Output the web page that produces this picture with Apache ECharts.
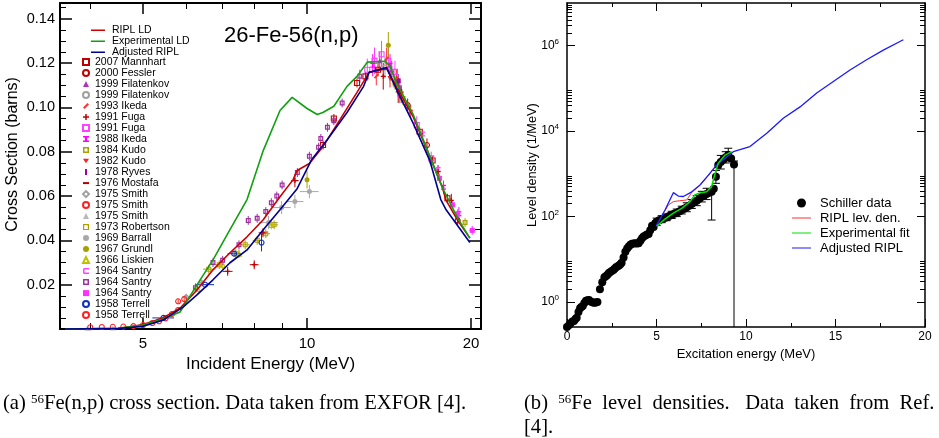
<!DOCTYPE html>
<html><head><meta charset="utf-8">
<script src="https://cdn.jsdelivr.net/npm/echarts@6/dist/echarts.min.js"></script>
<style>html,body{margin:0;padding:0;background:#fff}#c{width:939px;height:438px}</style>
</head><body><div id="c"></div>
<script>
// ================= Panel (a): 26-Fe-56(n,p) =================
// curves: [E (MeV), sigma (barns)]
const riplLD = [[3.6,0],[4.5,0.0003],[4.73,0.001],[5.0,0.002],[5.44,0.005],[5.85,0.0095],[6.28,0.0176],[6.72,0.0267],[7.22,0.0344],[7.76,0.0416],[8.31,0.0493],[8.92,0.0597],[9.43,0.0674],[9.59,0.0715],[10.1,0.0747],[10.7,0.0824],[11.5,0.0946],[12.35,0.1068],[13.0,0.1158],[14.0,0.1175],[14.6,0.109],[15.65,0.0959],[16.8,0.0778],[17.3,0.070],[17.7,0.0643],[18.0,0.058],[18.9,0.049],[19.9,0.041]];
const experimentalLD = [[3.6,0],[4.5,0.0003],[5.0,0.0018],[5.44,0.0045],[5.85,0.0077],[6.28,0.0199],[6.72,0.0312],[7.22,0.0448],[7.76,0.0584],[8.31,0.0805],[8.92,0.0986],[9.39,0.1045],[10.0,0.0995],[10.44,0.0968],[10.69,0.0977],[11.2,0.1005],[11.84,0.1095],[12.35,0.114],[12.9,0.1204],[13.9,0.1208],[14.2,0.1186],[14.6,0.111],[15.65,0.097],[16.8,0.078],[17.7,0.064],[18.9,0.050],[19.9,0.041]];
const adjustedRIPL = [[3.6,0],[4.5,0.0002],[5.0,0.0012],[5.44,0.004],[5.92,0.0099],[6.28,0.0154],[6.72,0.0222],[7.22,0.0299],[7.76,0.0357],[8.31,0.0448],[8.92,0.0538],[9.59,0.0633],[10.2,0.0765],[10.9,0.0855],[11.84,0.0977],[12.7,0.1095],[13.0,0.1158],[14.0,0.118],[14.6,0.108],[15.65,0.093],[16.8,0.076],[17.6,0.0584],[18.0,0.0538],[19.9,0.039]];

// experimental points: [E, sigma, dE, dSigma]
const mannhart2007 = [[10.7,0.083,0,0.002],[11.2,0.095,0,0.002],[12.35,0.111,0,0.002],[12.8,0.114,0,0.002],[13.5,0.117,0,0.003],[16.1,0.089,0,0.002],[17.0,0.076,0,0.002],[18.1,0.059,0,0.002]];
const fessler2000 = [[14.6,0.112,0,0.003],[15.3,0.101,0,0.003],[16.6,0.083,0,0.003],[18.9,0.049,0,0.002]];
const filatenkov1999a = [[13.6,0.121,0,0.004],[14.3,0.117,0,0.004],[14.8,0.109,0,0.003]];
const filatenkov1999b = [[13.9,0.118,0,0.005],[14.4,0.113,0,0.004]];
const ikeda1993 = [[13.4,0.114,0,0.004],[14.0,0.122,0,0.005],[14.6,0.113,0,0.004],[15.5,0.098,0,0.003]];
const fuga1991a = [[7.15,0.026,0.15,0.002],[8.0,0.029,0.15,0.002],[8.3,0.0434,0.15,0.002],[9.5,0.067,0.15,0.003],[13.8,0.114,0.1,0.006],[14.7,0.107,0.1,0.005],[17.4,0.071,0.1,0.003],[18.4,0.058,0.1,0.003]];
const fuga1991b = [[12.9,0.117,0,0.005],[13.3,0.121,0,0.006],[13.7,0.124,0,0.006],[14.1,0.121,0,0.006],[14.5,0.116,0,0.005],[15.9,0.092,0,0.004],[16.9,0.077,0,0.003]];
const ikeda1988 = [[13.2,0.119,0,0.005],[14.2,0.119,0,0.005],[14.8,0.106,0,0.004],[17.8,0.064,0,0.003],[19.0,0.052,0,0.003]];
const kudo1984 = [[14.5,0.111,0,0.003],[15.0,0.104,0,0.003],[19.5,0.048,0,0.002]];
const kudo1982 = [[14.2,0.113,0,0.004],[14.9,0.106,0,0.004]];
const ryves1978 = [[14.7,0.112,0,0.003]];
const mostafa1976 = [[14.8,0.107,0,0.003]];
const smith1975a = [[6.0,0.0145,0.1,0.001],[6.4,0.021,0.1,0.001]];
const smith1975b = [[5.8,0.0125,0,0.001],[5.95,0.0135,0,0.001]];
const smith1975c = [[3.95,0.0003,0,0],[4.4,0.0004,0,0]];
const robertson1973 = [[6.6,0.027,0.15,0.002],[6.9,0.029,0.15,0.002],[7.4,0.034,0.15,0.002],[7.7,0.038,0.15,0.002],[8.1,0.040,0.15,0.002],[8.4,0.043,0.15,0.002],[8.7,0.047,0.15,0.002]];
const barrall1969 = [[8.5,0.048,0.35,0.003],[8.98,0.0548,0.35,0.003],[9.5,0.0575,0.35,0.003],[10.1,0.062,0.4,0.003]];
const grundl1967 = [[10.0,0.0674,0,0.004],[14.1,0.128,0,0.006]];
const liskien1966 = [[6.3,0.018,0,0.001],[7.0,0.029,0,0.002],[7.5,0.034,0,0.002],[8.6,0.047,0,0.002]];
const santry1964a = [[16.3,0.088,0.1,0.002],[17.4,0.072,0.1,0.002]];
const santry1964b = [[6.24,0.0186,0,0.002],[6.72,0.030,0,0.002],[7.0,0.031,0,0.002],[7.5,0.038,0,0.002],[7.8,0.049,0,0.002],[8.1,0.050,0,0.002],[8.4,0.053,0,0.002],[8.6,0.057,0,0.002],[8.8,0.060,0,0.002],[9.0,0.065,0,0.002],[9.6,0.0706,0,0.002],[10.1,0.078,0,0.002],[10.5,0.082,0,0.002],[10.6,0.086,0,0.002],[10.9,0.091,0,0.002],[11.2,0.094,0,0.002],[11.6,0.102,0,0.002],[12.5,0.114,0,0.003]];
const santry1964c = [[17.5,0.068,0.15,0.002],[18.5,0.056,0.2,0.002],[18.9,0.052,0.2,0.002],[20.1,0.0445,0.25,0.002]];
const terrell1958a = [[5.45,0.005,0.25,0],[6.5,0.020,0.25,0],[7.35,0.034,0.2,0.001],[8.25,0.039,0,0.004]];
const terrell1958b = [[4.0,0.0008,0,0],[4.2,0.0009,0,0],[4.4,0.001,0,0],[4.6,0.0011,0,0],[4.8,0.0013,0,0],[5.0,0.0018,0,0],[5.2,0.0027,0,0],[5.35,0.0035,0,0],[5.5,0.0048,0,0],[5.65,0.0068,0,0],[5.8,0.0086,0,0]];

// legend order / dataset names
const aNames = ['2007 Mannhart','2000 Fessler','1999 Filatenkov','1999 Filatenkov ','1993 Ikeda','1991 Fuga','1991 Fuga ','1988 Ikeda','1984 Kudo','1982 Kudo','1978 Ryves','1976 Mostafa','1975 Smith','1975 Smith ','1975 Smith  ','1973 Robertson','1969 Barrall','1967 Grundl','1966 Liskien','1964 Santry','1964 Santry ','1964 Santry  ','1958 Terrell','1958 Terrell '];
const aData = [mannhart2007,fessler2000,filatenkov1999a,filatenkov1999b,ikeda1993,fuga1991a,fuga1991b,ikeda1988,kudo1984,kudo1982,ryves1978,mostafa1976,smith1975a,smith1975b,smith1975c,robertson1973,barrall1969,grundl1967,liskien1966,santry1964a,santry1964b,santry1964c,terrell1958a,terrell1958b];

// axis ticks panel (a)
const aXRange = [3.52, 20.86];
const aXMajorTicks = [5, 10, 20];
const aXMinorTicks = [4, 6, 7, 8, 9];
const aYRange = [0, 0.1471];
const aYMajorTicks = [0.02, 0.04, 0.06, 0.08, 0.10, 0.12, 0.14];
const aYMinorTicks = [0.005,0.01,0.015,0.025,0.03,0.035,0.045,0.05,0.055,0.065,0.07,0.075,0.085,0.09,0.095,0.105,0.11,0.115,0.125,0.13,0.135,0.145];

// ================= Panel (b): 56Fe level densities =================
// [Ex (MeV), rho (1/MeV)]
const schillerData = [[0.00,0.26],[0.12,0.29],[0.20,0.32],[0.30,0.35],[0.39,0.36],[0.47,0.40],[0.54,0.43],[0.64,0.58],[0.73,0.71],[0.80,0.76],[0.88,0.81],[0.97,0.95],[1.06,1.07],[1.15,1.10],[1.23,1.11],[1.35,1.02],[1.45,0.98],[1.53,0.96],[1.62,0.98],[1.70,1.00],[1.84,2.0],[1.97,2.9],[2.09,3.8],[2.17,4.0],[2.25,4.3],[2.33,4.7],[2.40,5.0],[2.50,5.3],[2.59,5.6],[2.66,6.0],[2.74,6.5],[2.83,6.9],[2.91,7.2],[2.98,7.7],[3.05,8.3],[3.16,11],[3.26,15],[3.36,18],[3.45,20],[3.54,22],[3.63,23],[3.73,23.5],[3.82,23.6],[3.91,23.5],[4.00,23.6],[4.10,27],[4.19,31],[4.28,34],[4.38,36],[4.47,38],[4.56,39],[4.65,48],[4.75,61],[4.84,57],[4.93,70],[5.01,76],[5.15,82],[5.29,87],[5.43,92],[5.57,96],[5.71,103],[5.85,110],[5.99,116],[6.13,123],[6.27,132],[6.41,142],[6.55,153],[6.69,165],[6.83,180],[6.97,198],[7.11,216],[7.25,236],[7.39,262],[7.53,293],[7.66,316],[7.80,338],[7.94,360],[8.08,381],[8.20,450],[8.32,858],[8.45,1620],[8.59,1900],[8.73,2130],[8.87,2450],[9.01,2760],[9.17,2300],[9.33,1660]];
// error bars: [Ex, low, high]
const schillerErr = [[5.01,62,92],[5.29,72,105],[5.57,80,115],[5.85,90,133],[6.13,100,150],[6.41,115,175],[6.69,130,210],[6.97,155,250],[7.25,180,310],[7.53,220,390],[7.80,250,460],[8.08,83,430],[8.32,600,1200],[8.59,1300,2700],[8.87,1800,3300],[9.01,2000,3980],[9.33,0.26,2000]];
const riplLevDen = [[5.0,60],[5.3,105],[5.66,186],[5.94,224],[6.3,235],[6.69,245],[6.97,370],[7.43,540],[7.9,920],[8.36,1600],[8.83,2300],[9.29,3250]];
const experimentalFit = [[5.01,59],[5.47,87],[5.94,120],[6.41,155],[6.87,224],[7.15,324],[7.43,355],[7.80,380],[8.08,500],[8.27,1020],[8.45,1780],[8.83,2750],[9.2,3310]];
const adjustedRIPLb = [[5.0,63],[5.47,141],[5.94,363],[6.22,302],[6.5,295],[6.97,380],[7.43,550],[7.9,933],[8.36,1620],[8.83,2340],[9.29,3310],[10.22,4370],[11.16,8900],[12.08,20000],[13.02,37000],[13.95,78000],[14.88,145000],[15.81,270000],[16.74,470000],[17.67,790000],[18.79,1380000]];

const bXRange = [0, 20];
const bYRange = [0.26, 1e7];
const bYLabelExps = [0, 2, 4, 6];
const bYMinorMantissas = [2, 3, 4, 5, 6, 7, 8, 9];

// ================= styles =================
const FONT = '"Liberation Sans", Arial, Helvetica, sans-serif';
const SERIF = '"Liberation Serif", "Times New Roman", serif';
const aStyles = [
  {c:'#c00000', s:'rect', h:true, z:5},
  {c:'#c00000', s:'circle', h:true, z:5},
  {c:'#b030c0', s:'triangle', z:6},
  {c:'#a0a0a0', s:'circle', h:true, z:5},
  {c:'#ff3030', s:'path://M0,7 L6,1 L8,3 L2,9 Z', z:7},
  {c:'#c00000', s:'path://M3,0h2v3h3v2h-3v3h-2v-3h-3v-2h3z', z:8},
  {c:'#ff40ff', s:'rect', h:true, z:6},
  {c:'#ff00ff', s:'path://M0,0h8v2h-2.5v4h2.5v2h-8v-2h2.5v-4h-2.5z', z:6},
  {c:'#a8a000', s:'path://M0,0h8v8h-8z M2,2v4h4v-4z', z:6},
  {c:'#ff2020', s:'path://M0,0 L8,0 L4,6 Z', z:6},
  {c:'#a000a0', s:'path://M0,0h3v9h-3z', z:6},
  {c:'#b00000', s:'path://M0,0h9v3h-9z', z:6},
  {c:'#a0a0a0', s:'diamond', h:true, z:5},
  {c:'#ff2020', s:'circle', h:true, z:5},
  {c:'#b8b8b8', s:'triangle', z:5},
  {c:'#b0a000', s:'path://M0,0h8v8h-8z M1.6,1.6v4.8h4.8v-4.8z', z:5},
  {c:'#a8a8a8', s:'circle', z:5},
  {c:'#a8a000', s:'circle', z:6},
  {c:'#c0c000', s:'triangle', h:true, z:5},
  {c:'#ff40ff', s:'path://M8,0h-6a2,2 0 0 0 -2,2v4a2,2 0 0 0 2,2h6v-2h-6v-4h6z', z:5},
  {c:'#a030a0', s:'path://M0,0h8v8h-8z M2,2v4h4v-4z', z:5},
  {c:'#ff30ff', s:'rect', z:6},
  {c:'#1030c0', s:'circle', h:true, z:6},
  {c:'#ff2020', s:'circle', h:true, z:5}
];
const LINE_ICON_A = 'path://M0,0h14v0.02h-14z M0,3.3h14v1.6h-14z M0,8h14v0.02h-14z';
const LINE_ICON_B = 'path://M0,0h19v0.02h-19z M0,3.9h19v1.2h-19z M0,9h19v0.02h-19z';

const lg = Math.log10;

function tickAxis(o) {
  const ax = {
    type: 'value', gridIndex: o.grid, position: o.pos, min: o.min, max: o.max,
    axisLine: {show: !!o.line, onZero: false, lineStyle: {color: '#000', width: o.lw || 1.5}},
    axisTick: {show: true, inside: true, length: o.len, customValues: o.ticks, lineStyle: {color: '#000', width: o.tw || 1}},
    axisLabel: {show: false},
    splitLine: {show: false}
  };
  if (o.labels) {
    ax.axisLabel = Object.assign({show: true, customValues: o.labels, color: '#000', fontFamily: FONT}, o.labelStyle);
  }
  if (o.name) { Object.assign(ax, o.name); }
  return ax;
}

const aXmin = lg(aXRange[0]), aXmax = lg(aXRange[1]);
const bYmin = lg(bYRange[0]), bYmax = lg(bYRange[1]);
const bYMinorTicks = [];
bYLabelExps.forEach(e => bYMinorMantissas.forEach(m => bYMinorTicks.push(lg(m) + e)));

const xAxes = [
  {type: 'log', gridIndex: 0, min: aXRange[0], max: aXRange[1], show: false},
  tickAxis({grid:0,pos:'bottom',min:aXmin,max:aXmax,line:true,lw:2,len:11,tw:1.5,ticks:aXMajorTicks.map(lg),labels:aXMajorTicks.map(lg),
    labelStyle:{fontSize:15,margin:7,formatter:v=>String(Math.round(Math.pow(10,v)))},
    name:{name:'Incident Energy (MeV)',nameLocation:'middle',nameGap:20,nameTextStyle:{fontSize:17,fontFamily:FONT,color:'#000'}}}),
  tickAxis({grid:0,pos:'bottom',min:aXmin,max:aXmax,len:6,ticks:aXMinorTicks.map(lg)}),
  tickAxis({grid:0,pos:'top',min:aXmin,max:aXmax,line:true,lw:2,len:11,tw:1.5,ticks:aXMajorTicks.map(lg)}),
  tickAxis({grid:0,pos:'top',min:aXmin,max:aXmax,len:6,ticks:aXMinorTicks.map(lg)}),
  {type:'value',gridIndex:1,position:'bottom',min:bXRange[0],max:bXRange[1],interval:5,
    axisLine:{onZero:false,lineStyle:{color:'#000',width:1.5}},
    axisTick:{inside:true,length:8,lineStyle:{color:'#000',width:1}},
    minorTick:{show:true,splitNumber:2,length:4,lineStyle:{color:'#000',width:1}},
    axisLabel:{color:'#000',fontSize:12,fontFamily:FONT,margin:4},
    splitLine:{show:false},
    name:'Excitation energy (MeV)',nameLocation:'middle',nameGap:18,nameTextStyle:{fontSize:13,fontFamily:FONT,color:'#000'}},
  {type:'value',gridIndex:1,position:'top',min:bXRange[0],max:bXRange[1],interval:5,
    axisLine:{onZero:false,lineStyle:{color:'#000',width:1.5}},
    axisTick:{inside:true,length:8,lineStyle:{color:'#000',width:1}},
    minorTick:{show:true,splitNumber:2,length:4,lineStyle:{color:'#000',width:1}},
    axisLabel:{show:false},splitLine:{show:false}}
];

const yAxes = [
  tickAxis({grid:0,pos:'left',min:aYRange[0],max:aYRange[1],line:true,lw:2,len:12,tw:1.5,ticks:aYMajorTicks,labels:aYMajorTicks,
    labelStyle:{fontSize:14.5,margin:5,formatter:v=>v.toFixed(2)}}),
  tickAxis({grid:0,pos:'left',min:aYRange[0],max:aYRange[1],len:6,ticks:aYMinorTicks}),
  tickAxis({grid:0,pos:'right',min:aYRange[0],max:aYRange[1],line:true,lw:2,len:12,tw:1.5,ticks:aYMajorTicks}),
  tickAxis({grid:0,pos:'right',min:aYRange[0],max:aYRange[1],len:6,ticks:aYMinorTicks}),
  {type:'log',gridIndex:1,min:bYRange[0],max:bYRange[1],show:false},
  tickAxis({grid:1,pos:'left',min:bYmin,max:bYmax,line:true,lw:1.5,len:8,ticks:bYLabelExps,labels:bYLabelExps,
    labelStyle:{margin:8,formatter:v=>'{b|10}{e|'+Math.round(v)+'}',rich:{b:{fontSize:12,fontFamily:FONT,color:'#000',lineHeight:16},e:{fontSize:8,fontFamily:FONT,color:'#000',lineHeight:9,verticalAlign:'top'}}}}),
  tickAxis({grid:1,pos:'left',min:bYmin,max:bYmax,len:5,ticks:bYMinorTicks}),
  tickAxis({grid:1,pos:'right',min:bYmin,max:bYmax,line:true,lw:1.5,len:8,ticks:bYLabelExps}),
  tickAxis({grid:1,pos:'right',min:bYmin,max:bYmax,len:5,ticks:bYMinorTicks})
];

function errSeriesA(data, color) {
  return {
    type:'custom', xAxisIndex:0, yAxisIndex:0, data:data, silent:true, z:4,
    encode:{x:0,y:1},
    renderItem:(p, api) => {
      const E = api.value(0), s = api.value(1), dE = api.value(2), dS = api.value(3);
      const ch = [];
      if (dE > 0) { const a = api.coord([E-dE, s]), b = api.coord([E+dE, s]);
        ch.push({type:'line',shape:{x1:a[0],y1:a[1],x2:b[0],y2:b[1]},style:{stroke:color,lineWidth:1}}); }
      if (dS > 0) { const a = api.coord([E, s-dS]), b = api.coord([E, s+dS]);
        ch.push({type:'line',shape:{x1:a[0],y1:a[1],x2:b[0],y2:b[1]},style:{stroke:color,lineWidth:1}}); }
      return {type:'group',children:ch};
    }
  };
}

const series = [];
aData.forEach((d, i) => {
  const st = aStyles[i];
  series.push(errSeriesA(d, st.c));
  const itemStyle = st.h ? {color:'rgba(255,255,255,0)', borderColor:st.c, borderWidth:1.1, opacity:1}
                         : {color:st.c, borderWidth:0, opacity:1};
  series.push({type:'scatter', name:aNames[i], xAxisIndex:0, yAxisIndex:0, data:d, symbol:st.s, symbolSize:5,
    itemStyle:itemStyle, z:st.z, emphasis:{disabled:true}});
});
const lineA = (name, data, color) => ({type:'line', name, xAxisIndex:0, yAxisIndex:0, data, showSymbol:false, symbol:'none',
  lineStyle:{color, width:1.6}, itemStyle:{color}, z:10, emphasis:{disabled:true}});
series.push(lineA('RIPL LD', riplLD, '#cc0000'));
series.push(lineA('Experimental LD', experimentalLD, '#10a010'));
series.push(lineA('Adjusted RIPL', adjustedRIPL, '#000090'));

// panel (b)
series.push({type:'scatter', name:'Schiller data', xAxisIndex:5, yAxisIndex:4, data:schillerData, symbol:'circle', symbolSize:8,
  itemStyle:{color:'#000', opacity:1}, z:5, emphasis:{disabled:true}});
series.push({type:'custom', xAxisIndex:5, yAxisIndex:4, data:schillerErr, silent:true, z:5, encode:{x:0,y:[1,2]},
  renderItem:(p, api) => {
    const E = api.value(0), lo = api.value(1), hi = api.value(2);
    const a = api.coord([E, lo]), b = api.coord([E, hi]);
    const ch = [{type:'line',shape:{x1:a[0],y1:a[1],x2:b[0],y2:b[1]},style:{stroke:'#000',lineWidth:1}},
                {type:'line',shape:{x1:b[0]-4,y1:b[1],x2:b[0]+4,y2:b[1]},style:{stroke:'#000',lineWidth:1}}];
    if (lo > bYRange[0]) ch.push({type:'line',shape:{x1:a[0]-4,y1:a[1],x2:a[0]+4,y2:a[1]},style:{stroke:'#000',lineWidth:1}});
    return {type:'group',children:ch};
  }});
const lineB = (name, data, color, w, z) => ({type:'line', name, xAxisIndex:5, yAxisIndex:4, data, showSymbol:false, symbol:'none',
  lineStyle:{color, width:w}, itemStyle:{color}, z, emphasis:{disabled:true}});
series.push(lineB('RIPL lev. den.', riplLevDen, '#ff3030', 1, 8));
series.push(lineB('Adjusted RIPL ', adjustedRIPLb, '#1a1aff', 1.3, 9));
series.push(lineB('Experimental fit', experimentalFit, '#00e000', 1.5, 10));

const option = {
  animation: false,
  backgroundColor: '#fff',
  grid: [
    {left:60, top:3, width:421, height:326, outerBoundsMode:'none'},
    {left:567, top:3, width:358, height:324, outerBoundsMode:'none'}
  ],
  xAxis: xAxes,
  yAxis: yAxes,
  legend: [
    {data:[{name:'RIPL LD',icon:LINE_ICON_A},{name:'Experimental LD',icon:LINE_ICON_A},{name:'Adjusted RIPL',icon:LINE_ICON_A}],
      orient:'vertical', left:86, top:19.6, itemWidth:14, itemHeight:8, itemGap:0,
      textStyle:{fontSize:10.5, lineHeight:10.7, fontFamily:FONT, color:'#000', padding:[0,0,0,2]}, selectedMode:false},
    {data:aNames, orient:'vertical', left:77, top:51.6, itemWidth:6, itemHeight:6, itemGap:0,
      textStyle:{fontSize:10.5, lineHeight:10.72, fontFamily:FONT, color:'#000', padding:[0,0,0,1]}, selectedMode:false},
    {data:[{name:'Schiller data',icon:'circle'},{name:'RIPL lev. den.',icon:LINE_ICON_B},{name:'Experimental fit',icon:LINE_ICON_B},{name:'Adjusted RIPL ',icon:LINE_ICON_B}],
      orient:'vertical', left:787, top:190.5, itemWidth:19, itemHeight:9, itemGap:0,
      textStyle:{fontSize:13, lineHeight:15, fontFamily:FONT, color:'#000', padding:[0,0,0,4]}, selectedMode:false}
  ],
  graphic: [
    {type:'text', x:224, y:35.5, style:{text:'26-Fe-56(n,p)', fontSize:22, fontFamily:FONT, fill:'#000', align:'left', verticalAlign:'middle'}},
    {type:'text', x:12.5, y:154.5, rotation:Math.PI/2, style:{text:'Cross Section (barns)', fontSize:16, fontFamily:FONT, fill:'#000', align:'center', verticalAlign:'middle'}},
    {type:'text', x:532, y:165, rotation:Math.PI/2, style:{text:'Level density (1/MeV)', fontSize:12.8, fontFamily:FONT, fill:'#000', align:'center', verticalAlign:'middle'}},
    {type:'text', x:3, y:404, style:{text:'{n|(a) }{s|56}{n|Fe(n,p) cross section. Data taken from EXFOR [4].}', align:'left', verticalAlign:'middle',
      rich:{n:{fontSize:20.6, fontFamily:SERIF, fill:'#000', lineHeight:22}, s:{fontSize:13, fontFamily:SERIF, fill:'#000', lineHeight:14, verticalAlign:'top'}}}},
    {type:'text', x:524, y:404, style:{text:'{n|(b)  }{s|56}{n|Fe  level  densities.   Data  taken  from  Ref.}', align:'left', verticalAlign:'middle',
      rich:{n:{fontSize:20.6, fontFamily:SERIF, fill:'#000', lineHeight:22}, s:{fontSize:13, fontFamily:SERIF, fill:'#000', lineHeight:14, verticalAlign:'top'}}}},
    {type:'text', x:524, y:428, style:{text:'[4].', fontSize:20.6, fontFamily:SERIF, fill:'#000', align:'left', verticalAlign:'middle'}}
  ],
  series: series
};
const chart = echarts.init(document.getElementById('c'), null, {renderer:'canvas'});
chart.setOption(option);
</script></body></html>
